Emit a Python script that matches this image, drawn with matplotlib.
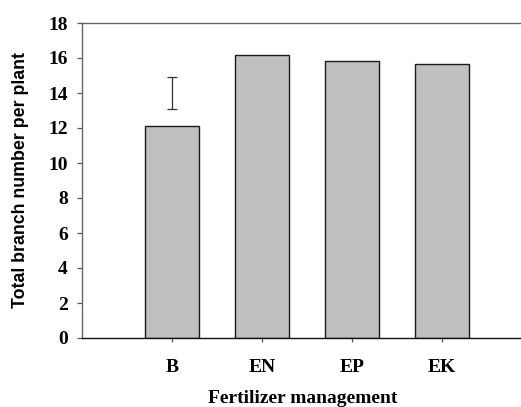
import matplotlib
matplotlib.use("Agg")
import matplotlib.pyplot as plt

categories = ["B", "EN", "EP", "EK"]
values = [12.1, 16.2, 15.85, 15.67]
err_center = [14.0]
err_half = [0.9]
yticks = [0, 2, 4, 6, 8, 10, 12, 14, 16, 18]

W, H = 521, 407
fig = plt.figure(figsize=(W / 100, H / 100), dpi=100)
ax = fig.add_axes([82 / W, 1 - 338 / H, 450 / W, 315 / H])

x = list(range(1, len(categories) + 1))
ax.bar(x, values, width=0.6, color="#c0c0c0", edgecolor="#1a1a1a", linewidth=1.0, zorder=2)
ax.errorbar([x[0]], err_center, yerr=err_half, fmt="none", ecolor="#333333",
            elinewidth=0.9, capsize=3.6, capthick=0.9, zorder=3)

ax.set_xlim(0, 5)
ax.set_ylim(0, 18)
ax.set_yticks(yticks)
ax.set_yticklabels([str(t) for t in yticks])
ax.set_xticks(x)
ax.set_xticklabels(categories)

for lab in ax.get_xticklabels() + ax.get_yticklabels():
    lab.set_fontfamily("Liberation Serif")
    lab.set_fontweight("bold")
    lab.set_fontsize(14)

ax.tick_params(axis="y", direction="out", length=3.6, width=0.9, pad=6.5, color="#555555")
ax.tick_params(axis="x", direction="out", length=3, width=0.9, pad=12, color="#555555")

for s in ["left", "top", "right"]:
    ax.spines[s].set_color("#666666")
    ax.spines[s].set_linewidth(1.0)
ax.spines["bottom"].set_color("#111111")
ax.spines["bottom"].set_linewidth(1.0)

fig.text(21 / W, 1 - 180.5 / H, "Total branch number per plant", rotation=90,
         ha="center", va="center", family="Liberation Sans", weight="bold", fontsize=12.8)
fig.text(302.5 / W, 1 - 403 / H, "Fertilizer management", ha="center", va="baseline",
         family="Liberation Serif", weight="bold", fontsize=14)

fig.savefig("out.png", dpi=100)
